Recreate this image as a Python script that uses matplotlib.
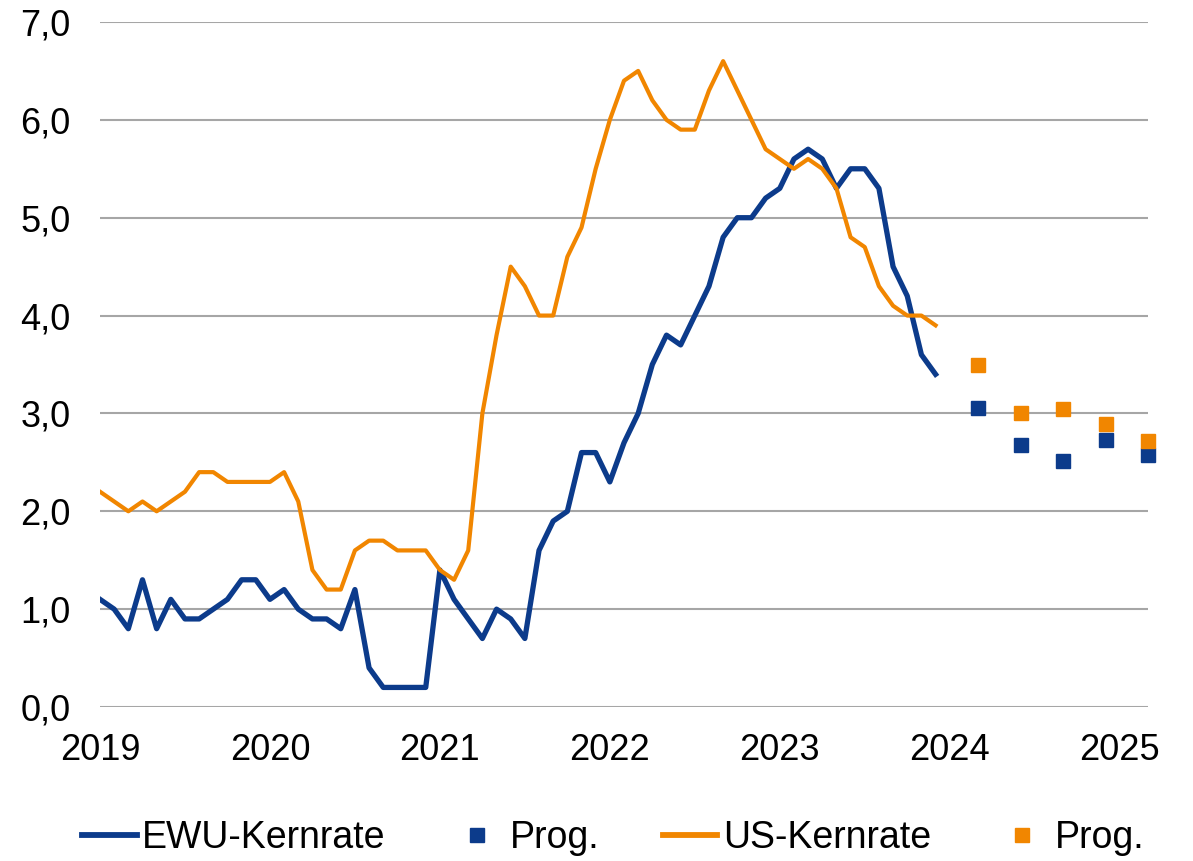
import numpy as np
import matplotlib.pyplot as plt
from matplotlib.lines import Line2D

plt.rcParams['font.family'] = ['Liberation Sans', 'DejaVu Sans']

# monthly core inflation, Jan 2019 .. Dec 2023
ewu_core = [1.1, 1.0, 0.8, 1.3, 0.8, 1.1, 0.9, 0.9, 1.0, 1.1, 1.3, 1.3,
            1.1, 1.2, 1.0, 0.9, 0.9, 0.8, 1.2, 0.4, 0.2, 0.2, 0.2, 0.2,
            1.4, 1.1, 0.9, 0.7, 1.0, 0.9, 0.7, 1.6, 1.9, 2.0, 2.6, 2.6,
            2.3, 2.7, 3.0, 3.5, 3.8, 3.7, 4.0, 4.3, 4.8, 5.0, 5.0, 5.2,
            5.3, 5.6, 5.7, 5.6, 5.3, 5.5, 5.5, 5.3, 4.5, 4.2, 3.6, 3.4]
us_core = [2.2, 2.1, 2.0, 2.1, 2.0, 2.1, 2.2, 2.4, 2.4, 2.3, 2.3, 2.3,
           2.3, 2.4, 2.1, 1.4, 1.2, 1.2, 1.6, 1.7, 1.7, 1.6, 1.6, 1.6,
           1.4, 1.3, 1.6, 3.0, 3.8, 4.5, 4.3, 4.0, 4.0, 4.6, 4.9, 5.5,
           6.0, 6.4, 6.5, 6.2, 6.0, 5.9, 5.9, 6.3, 6.6, 6.3, 6.0, 5.7,
           5.6, 5.5, 5.6, 5.5, 5.3, 4.8, 4.7, 4.3, 4.1, 4.0, 4.0, 3.9]

# quarterly forecasts (month index: Mar 2024 .. Mar 2025)
prog_months = [62, 65, 68, 71, 74]
ewu_prog = [3.06, 2.68, 2.51, 2.73, 2.58]
us_prog = [3.49, 3.00, 3.05, 2.89, 2.72]

years = ['2019', '2020', '2021', '2022', '2023', '2024', '2025']

blue = '#0c3b8b'
orange = '#f18600'

fig = plt.figure(figsize=(11.93, 8.61), dpi=100)
ax = fig.add_axes([100/1193, 1 - 707/861, 1048/1193, 685/861])

months = np.arange(len(ewu_core))
ax.plot(months, ewu_core, color=blue, lw=3.8, solid_joinstyle='round', zorder=3)
ax.plot(prog_months, ewu_prog, ls='none', marker='s', ms=10, color=blue,
        clip_on=False, zorder=4)
ax.plot(months, us_core, color=orange, lw=3.0, solid_joinstyle='round', zorder=3)
ax.plot(prog_months, us_prog, ls='none', marker='s', ms=10, color=orange,
        clip_on=False, zorder=4)

ax.set_xlim(0, 74)
ax.set_ylim(0, 7)
ax.set_yticks(np.arange(0, 7.5, 1))
ax.set_yticklabels([f'{v:.1f}'.replace('.', ',') for v in np.arange(0, 7.5, 1)])
ax.set_xticks(np.arange(0, 73, 12))
ax.set_xticklabels(years)
ax.tick_params(axis='y', length=0, pad=21, labelsize=26)
ax.tick_params(axis='x', length=0, pad=19, labelsize=26)
ax.grid(axis='y', color='#a6a6a6', lw=1.5)
ax.set_axisbelow(True)
for s in ax.spines.values():
    s.set_visible(False)

handles = [
    Line2D([], [], color=blue, lw=4.2),
    Line2D([], [], ls='none', marker='s', ms=10.5, color=blue),
    Line2D([], [], color=orange, lw=4.2),
    Line2D([], [], ls='none', marker='s', ms=10.5, color=orange),
]
labels = ['EWU-Kernrate', 'Prog.', 'US-Kernrate', 'Prog.']
fig.legend(handles, labels, loc='center', bbox_to_anchor=(0.514, 0.027),
           ncol=4, frameon=False, fontsize=27, handlelength=1.45,
           handletextpad=0.15, columnspacing=1.7, borderpad=0)

fig.savefig('out.png', dpi=100)
